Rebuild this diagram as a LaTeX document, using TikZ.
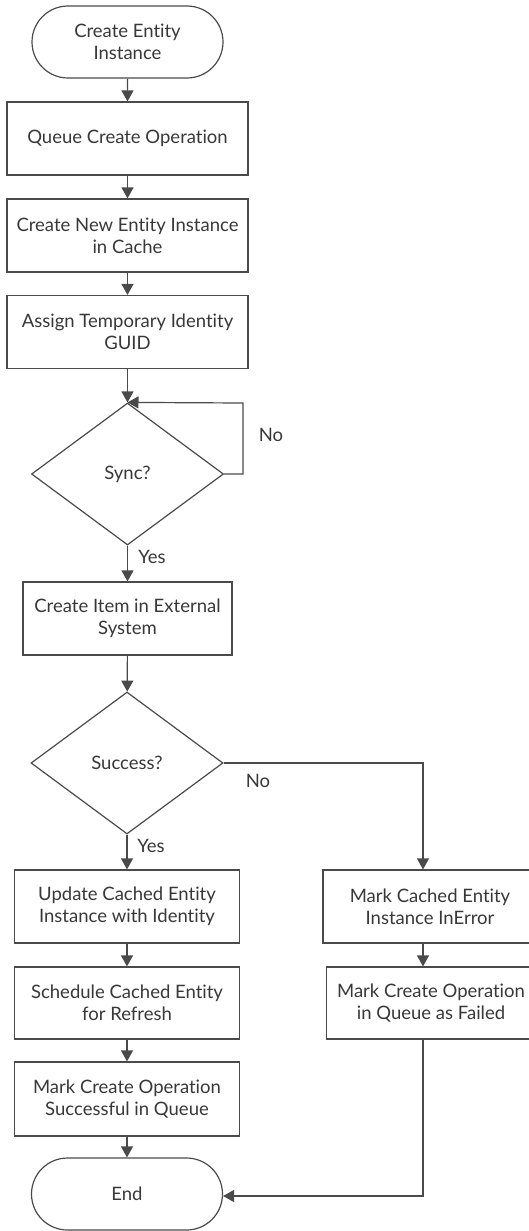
\documentclass[tikz,border=0pt]{standalone}
\usepackage{fontspec}
\setmainfont{Lato}[Ligatures={NoCommon}]
\usetikzlibrary{arrows.meta,shapes.geometric,shapes.misc}
\definecolor{linegray}{HTML}{4A4A4A}
\definecolor{textgray}{HTML}{383838}

\begin{document}
\begin{tikzpicture}[x=1pt,y=1pt,
    font=\fontsize{18.5}{22}\selectfont,
    box/.style={draw=linegray,line width=1.2pt,text=textgray,align=center,inner sep=0pt,minimum height=73pt},
    term/.style={box,rounded rectangle,minimum width=191pt,minimum height=72pt},
    decision/.style={draw=linegray,line width=1.2pt,text=textgray,diamond,inner sep=0pt,minimum width=192pt,minimum height=142pt},
    flow/.style={draw=linegray,line width=1.2pt,-{Triangle[width=12pt,length=11pt]}},
    lbl/.style={text=textgray}]

    \useasboundingbox[fill=white] (0,0) rectangle (529,-1231);

    % main column
    \node[term] (start) at (127.5,-42) {Create Entity\\Instance};
    \node[box,minimum width=241pt] (queue) at (127.5,-138.5) {Queue Create Operation};
    \node[box,minimum width=241pt] (cache) at (127.5,-235.5) {Create New Entity Instance\\in Cache};
    \node[box,minimum width=241pt] (guid) at (127.5,-332) {Assign Temporary Identity\\GUID};
    \node[decision] (sync) at (127.5,-474) {Sync?};
    \node[box,minimum width=209pt] (ext) at (127.5,-618.5) {Create Item in External\\System};
    \node[decision] (succ) at (127,-763) {Success?};

    \node[box,minimum width=224.5pt] (upd) at (127,-906.5) {Update Cached Entity\\Instance with Identity};
    \node[box,minimum width=224.5pt,minimum height=72pt] (sched) at (127,-1003) {Schedule Cached Entity\\for Refresh};
    \node[box,minimum width=224.5pt,minimum height=74pt] (marks) at (127,-1099) {Mark Create Operation\\Successful in Queue};
    \node[term] (end) at (127,-1194) {End};

    % failure column
    \node[box,minimum width=214pt] (err) at (430,-906.5) {Mark Cached Entity\\Instance InError};
    \node[box,minimum width=209pt,minimum height=72pt] (fail) at (431,-1003) {Mark Create Operation\\in Queue as Failed};

    \coordinate (loop) at (243,-403);

    \draw[flow] (start) -- (queue);
    \draw[flow] (queue) -- (cache);
    \draw[flow] (cache) -- (guid);
    \draw[flow] (guid) -- (sync);

    \draw[flow] (sync.east) -| (loop) -- (sync.north);
    \draw[flow] (sync) -- (ext);
    \draw[flow] (ext) -- (succ);

    \draw[flow] (succ) -- (upd);
    \draw[flow] (upd) -- (sched);
    \draw[flow] (sched) -- (marks);
    \draw[flow] (marks) -- (end);

    \draw[flow] (succ.east) -| ([xshift=-7pt]err.north);
    \draw[flow] ([xshift=-7pt]err.south) -- ([xshift=-8pt]fail.north);
    \draw[flow] ([xshift=-8pt]fail.south) |- ([yshift=-2pt]end.east);

    \node[lbl] (nosync) at (271,-435) {No};
    \node[lbl] (yessync) at (152,-557) {Yes};
    \node[lbl] (nosucc) at (258,-781) {No};
    \node[lbl] (yessucc) at (151,-846) {Yes};

\end{tikzpicture}
\end{document}
